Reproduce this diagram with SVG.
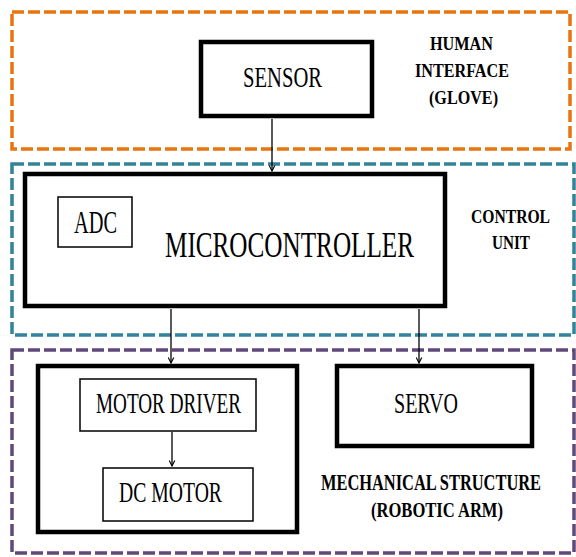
<svg xmlns="http://www.w3.org/2000/svg" width="576" height="557" viewBox="0 0 576 557">
<defs>
<style>
.grp{fill:none;stroke-width:3.5;stroke-dasharray:12 4}
.thick{fill:#fff;stroke:#000;stroke-width:4.5}
.thin{fill:#fff;stroke:#000;stroke-width:1.5}
.t{font-family:"Liberation Serif","Times New Roman",serif;fill:#000}
.lb{font-family:"Liberation Serif","Times New Roman",serif;font-weight:bold;fill:#000}
.con{stroke:#000;stroke-width:1.3;fill:none}
</style>
<marker id="ah" viewBox="0 0 10 10" refX="9" refY="5" markerWidth="7" markerHeight="7" markerUnits="userSpaceOnUse" orient="auto">
<path d="M1,1 L9,5 L1,9" fill="none" stroke="#000" stroke-width="1.6"/>
</marker>
</defs>
<rect width="576" height="557" fill="#fff"/>
<g id="group-human">
<rect class="grp" x="12" y="12" width="558" height="137" stroke="#E87511"/>
<text class="lb" x="430" y="50" font-size="19" textLength="63" lengthAdjust="spacingAndGlyphs">HUMAN</text>
<text class="lb" x="415" y="77" font-size="19" textLength="94" lengthAdjust="spacingAndGlyphs">INTERFACE</text>
<text class="lb" x="429" y="104" font-size="19" textLength="69" lengthAdjust="spacingAndGlyphs">(GLOVE)</text>
</g>
<g id="group-control">
<rect class="grp" x="12" y="164" width="562" height="171" stroke="#31849B"/>
<text class="lb" x="471" y="223" font-size="19" textLength="79" lengthAdjust="spacingAndGlyphs">CONTROL</text>
<text class="lb" x="492" y="249" font-size="19" textLength="38" lengthAdjust="spacingAndGlyphs">UNIT</text>
</g>
<g id="group-mech">
<rect class="grp" x="12" y="350" width="562" height="203" stroke="#5F497A"/>
<text class="lb" transform="translate(321,490) scale(1,1.45)" x="0" y="0" font-size="15.4" textLength="220" lengthAdjust="spacingAndGlyphs">MECHANICAL  STRUCTURE</text>
<text class="lb" x="371" y="517" font-size="20" textLength="132" lengthAdjust="spacingAndGlyphs">(ROBOTIC ARM)</text>
</g>
<g id="sensor">
<rect class="thick" x="201" y="42" width="171" height="74"/>
<text class="t" x="243" y="87" font-size="29" textLength="79" lengthAdjust="spacingAndGlyphs">SENSOR</text>
</g>
<g id="microcontroller">
<rect class="thick" x="25" y="174" width="420" height="132"/>
<text class="t" transform="translate(165,257) scale(1,1.42)" x="0" y="0" font-size="25.2" textLength="249" lengthAdjust="spacingAndGlyphs">MICROCONTROLLER</text>
</g>
<g id="adc">
<rect class="thin" x="58" y="197" width="74" height="50"/>
<text class="t" x="74" y="233" font-size="31" textLength="43" lengthAdjust="spacingAndGlyphs">ADC</text>
</g>
<g id="motor-unit">
<rect class="thick" x="38" y="366" width="259" height="166"/>
</g>
<g id="motor-driver">
<rect class="thin" x="80" y="379" width="176" height="52"/>
<text class="t" x="96" y="413" font-size="29" textLength="145" lengthAdjust="spacingAndGlyphs">MOTOR DRIVER</text>
</g>
<g id="dc-motor">
<rect class="thin" x="103" y="468" width="150" height="53"/>
<text class="t" x="119" y="502" font-size="29" textLength="103" lengthAdjust="spacingAndGlyphs">DC MOTOR</text>
</g>
<g id="servo">
<rect class="thick" x="337" y="366" width="195" height="80"/>
<text class="t" x="394" y="413" font-size="29" textLength="64" lengthAdjust="spacingAndGlyphs">SERVO</text>
</g>
<g id="connectors">
<line class="con" x1="272" y1="119" x2="272" y2="171" marker-end="url(#ah)"/>
<line class="con" x1="171" y1="309" x2="171" y2="363" marker-end="url(#ah)"/>
<line class="con" x1="419" y1="309" x2="419" y2="363" marker-end="url(#ah)"/>
<line class="con" x1="172" y1="432" x2="172" y2="466" marker-end="url(#ah)"/>
</g>
</svg>
